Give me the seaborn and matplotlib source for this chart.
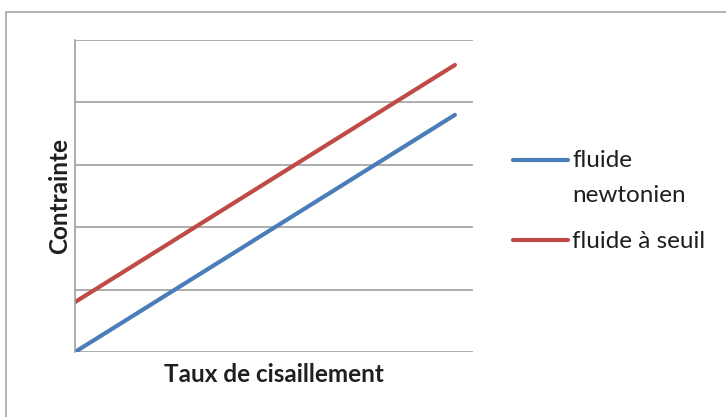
import matplotlib
matplotlib.use("Agg")
import matplotlib.pyplot as plt
from matplotlib.lines import Line2D
from matplotlib.patches import Rectangle
import pandas as pd
import seaborn as sns

# Shear rate (x) and stress (y) for the two fluid models
shear_rate = [0, 21]
newtonian = [0, 38]
yield_fluid = [8, 46]
series_names = ["fluide\nnewtonien", "fluide à seuil"]
x_title = "Taux de cisaillement"
y_title = "Contrainte"

colors = ["#4a7ebb", "#be4b48"]
text_color = "#1f1f1f"
W, H = 726, 417

df = pd.DataFrame({
    "x": shear_rate * 2,
    "y": newtonian + yield_fluid,
    "serie": [series_names[0]] * len(shear_rate) + [series_names[1]] * len(shear_rate),
})

sns.set_theme(style="white")
plt.rcParams["font.family"] = ["Lato", "DejaVu Sans"]

fig = plt.figure(figsize=(W / 100, H / 100), dpi=100)
fig.patch.set_facecolor("white")

# Chart frame (only left and top edges fall inside the image)
fig.add_artist(Rectangle((6 / W, -0.1), 1.2, 1 - 12 / H + 0.1,
                         transform=fig.transFigure, fill=False,
                         edgecolor="#a6a6a6", linewidth=1.2))

ax = fig.add_axes([75 / W, 1 - 352 / H, (473 - 75) / W, (352 - 40) / H])
sns.lineplot(data=df, x="x", y="y", hue="serie", palette=colors,
             linewidth=3.0, ax=ax, legend=False,
             solid_capstyle="round")

ax.set_xlim(0, 22)
ax.set_ylim(0, 50)
ax.set_yticks(range(0, 51, 10))
ax.set_xticks([])
ax.tick_params(left=False, bottom=False, labelleft=False, labelbottom=False)
ax.yaxis.grid(True, color="#a0a0a0", linewidth=1.2)
ax.set_axisbelow(True)
for side in ["top", "right", "bottom"]:
    ax.spines[side].set_visible(False)
ax.spines["left"].set_color("#a0a0a0")
ax.spines["left"].set_linewidth(1.2)

ax.set_xlabel(x_title, fontsize=17.5, fontweight="bold", color=text_color,
              va="baseline")
ax.xaxis.set_label_coords(0.5, -(382 - 352) / 312)
ax.set_ylabel(y_title, fontsize=17.5, fontweight="bold", color=text_color,
              va="center")
ax.yaxis.set_label_coords(-(75 - 60) / 398, 0.5)

# Legend drawn to the right of the plot area
handle_rows = [160, 240]
label_baselines = [[167, 202], [248]]
for color, name, yrow, bases in zip(colors, series_names, handle_rows, label_baselines):
    fig.add_artist(Line2D([513 / W, 568 / W], [1 - yrow / H, 1 - yrow / H],
                          transform=fig.transFigure, color=color,
                          linewidth=3.0, solid_capstyle="round"))
    for part, base in zip(name.split("\n"), bases):
        fig.text(572 / W, 1 - base / H, part, fontsize=17.5, color=text_color,
                 va="baseline", ha="left")

fig.savefig("out.png", dpi=100, facecolor="white")
